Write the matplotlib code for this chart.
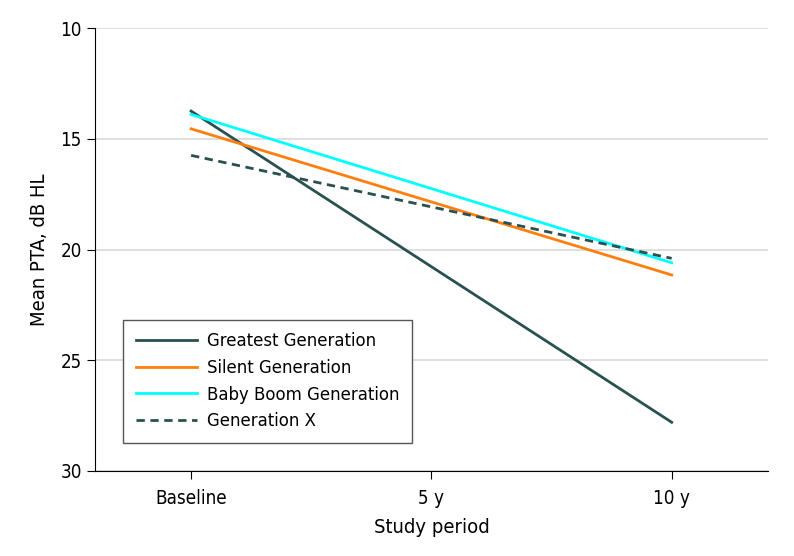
import matplotlib
matplotlib.use('Agg')
import matplotlib.pyplot as plt

# Chart data
periods = [0, 10]
tick_pos = [0, 5, 10]
tick_labels = ['Baseline', '5 y', '10 y']

greatest = [13.75, 27.8]
silent = [14.55, 21.15]
baby_boom = [13.9, 20.6]
gen_x = [15.75, 20.4]

plt.rcParams['font.family'] = ['DejaVu Sans']
plt.rcParams['font.stretch'] = 'condensed'

fig = plt.figure(figsize=(7.94, 5.56), dpi=100)
ax = fig.add_axes([0.1196, 0.1529, 0.8474, 0.7967])

slate = '#2a5050'
ax.plot(periods, greatest, color=slate, lw=2, label='Greatest Generation')
ax.plot(periods, silent, color='#ff7f0e', lw=2, label='Silent Generation')
ax.plot(periods, baby_boom, color='#00ffff', lw=2, label='Baby Boom Generation')
ax.plot(periods, gen_x, color=slate, lw=2, ls=(0, (3, 2)), label='Generation X')

ax.set_xlim(-2, 12)
ax.set_ylim(30, 10)
ax.set_yticks([10, 15, 20, 25, 30])
ax.set_xticks(tick_pos)
ax.set_xticklabels(tick_labels)
ax.yaxis.grid(True, color='#d9d9d9', lw=1.2)
ax.set_axisbelow(True)

for s in ['top', 'right']:
    ax.spines[s].set_visible(False)
ax.tick_params(axis='both', labelsize=13.5, length=6, width=0.8)
ax.tick_params(axis='x', pad=7)

ax.set_xlabel('Study period', fontsize=14.5, labelpad=7)
ax.set_ylabel('Mean PTA, dB HL', fontsize=14.5, labelpad=8)

leg = ax.legend(loc='lower left', bbox_to_anchor=(0.042, 0.063), borderaxespad=0,
                fontsize=13.2, fancybox=False, framealpha=1, edgecolor='#555555',
                handlelength=3.3, handletextpad=0.55, labelspacing=0.47, borderpad=0.7)
leg.get_frame().set_linewidth(1)

fig.savefig('out.png', dpi=100)
